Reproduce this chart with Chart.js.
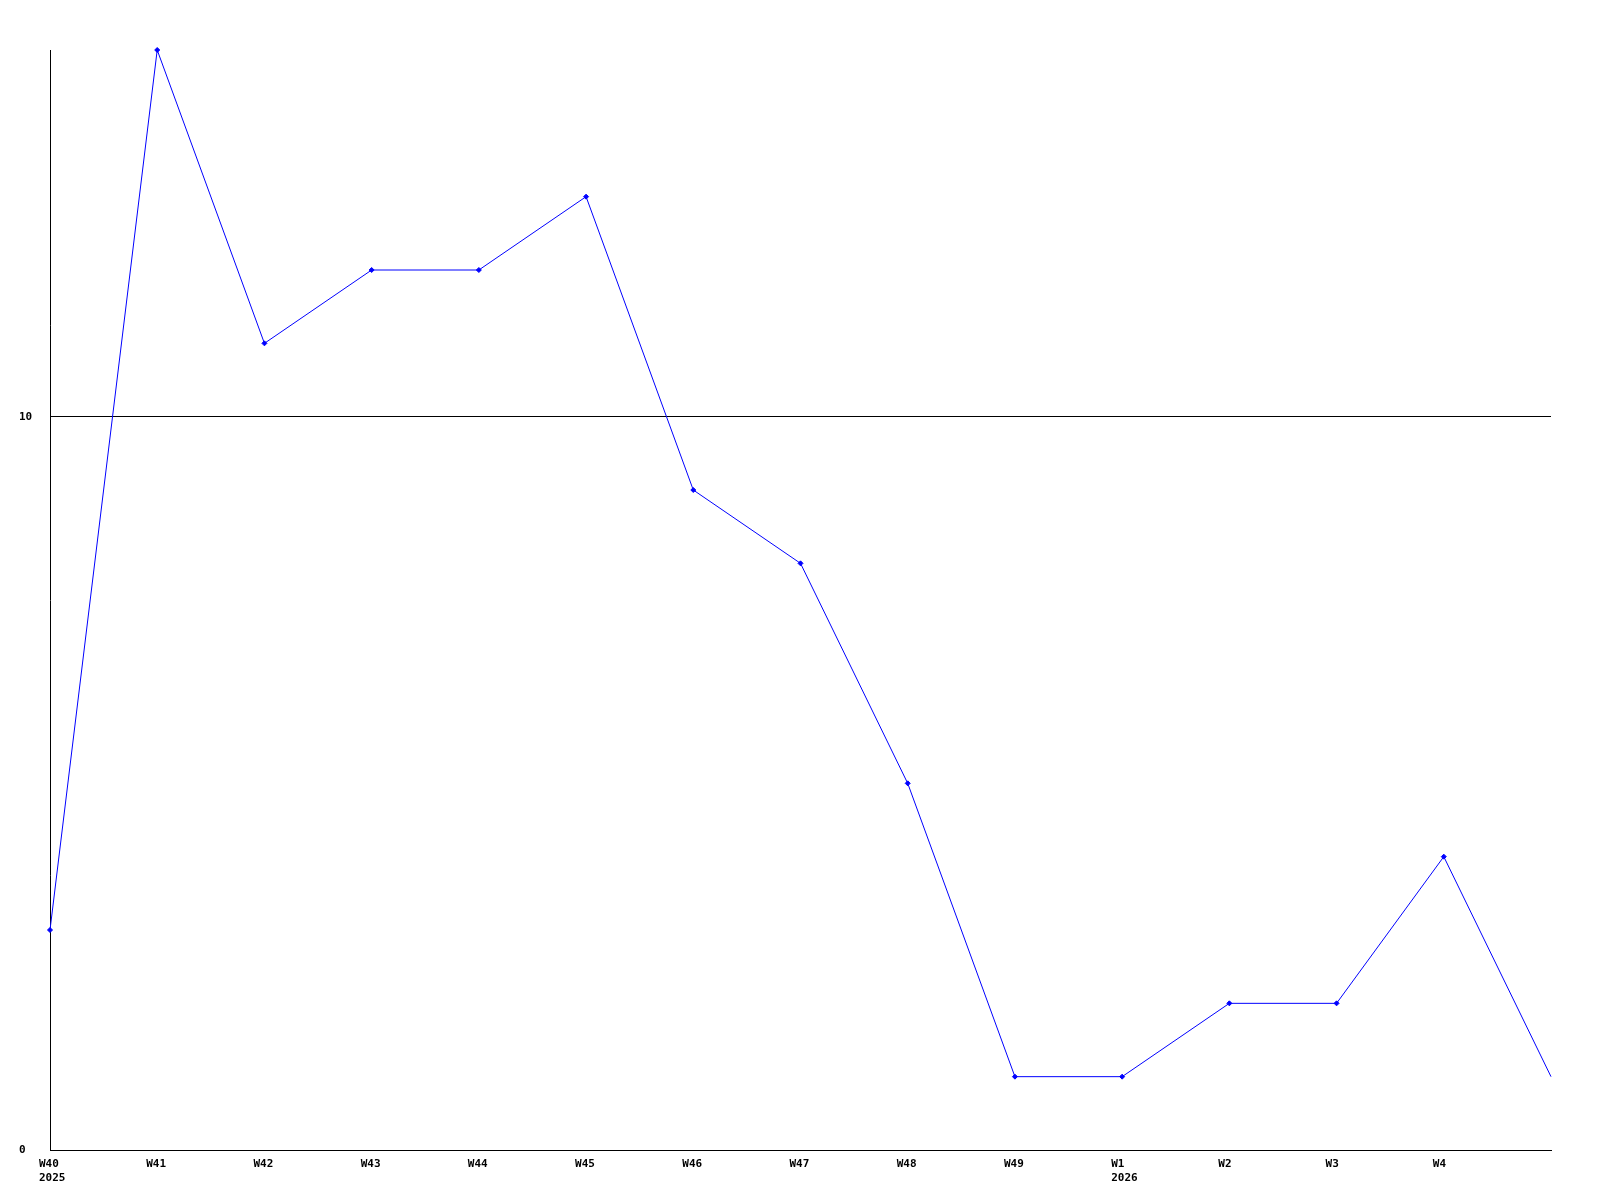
<!DOCTYPE html>
<html>
<head>
<meta charset="utf-8">
<script src="https://cdn.jsdelivr.net/npm/chart.js@4/dist/chart.umd.min.js"></script>
<style>
  body { margin: 0; background: #fff; }
</style>
</head>
<body>
<canvas id="chart" width="1600" height="1200"></canvas>
<script>
var weeks = ["W40", "W41", "W42", "W43", "W44", "W45", "W46", "W47", "W48", "W49", "W1", "W2", "W3", "W4", ""];
var years = ["2025", "", "", "", "", "", "", "", "", "", "2026", "", "", "", ""];
var counts = [3, 15, 11, 12, 12, 13, 9, 8, 5, 1, 1, 2, 2, 4, 1];
var yTicks = [0, 10];

var labels = weeks.map(function (w, i) {
  return years[i] ? [w, years[i]] : w;
});

var tickFont = { family: "DejaVu Sans Mono", size: 11, weight: "bold" };

// the last (unlabelled) point has no marker in the original
function markerSize(ctx) {
  return ctx.dataIndex === counts.length - 1 ? 0 : 2.5;
}

new Chart(document.getElementById("chart"), {
  type: "line",
  data: {
    labels: labels,
    datasets: [
      {
        data: counts,
        borderColor: "#0000ff",
        backgroundColor: "#0000ff",
        borderWidth: 1,
        pointStyle: "rectRot",
        pointRadius: markerSize,
        pointHoverRadius: markerSize,
        tension: 0,
        fill: false,
        clip: false,
      },
    ],
  },
  options: {
    responsive: false,
    animation: false,
    layout: { padding: { top: 50, right: 49, left: 19, bottom: 0 } },
    plugins: { legend: { display: false }, tooltip: { enabled: false } },
    scales: {
      x: {
        offset: false,
        grid: { display: false, drawTicks: false },
        border: { color: "#000", width: 1 },
        ticks: {
          color: "#000",
          font: tickFont,
          align: "start",
          labelOffset: -11,
          padding: 8,
          maxRotation: 0,
          autoSkip: false,
        },
        afterFit: function (s) { s.height = 50; },
      },
      y: {
        min: 0,
        max: 15,
        afterBuildTicks: function (s) {
          s.ticks = yTicks.map(function (v) { return { value: v }; });
        },
        grid: { color: "#000", drawTicks: false },
        border: { color: "#000", width: 1 },
        ticks: {
          color: "#000",
          font: tickFont,
          crossAlign: "far",
          padding: 0,
        },
        afterFit: function (s) { s.width = 31; },
      },
    },
  },
});
</script>
</body>
</html>
